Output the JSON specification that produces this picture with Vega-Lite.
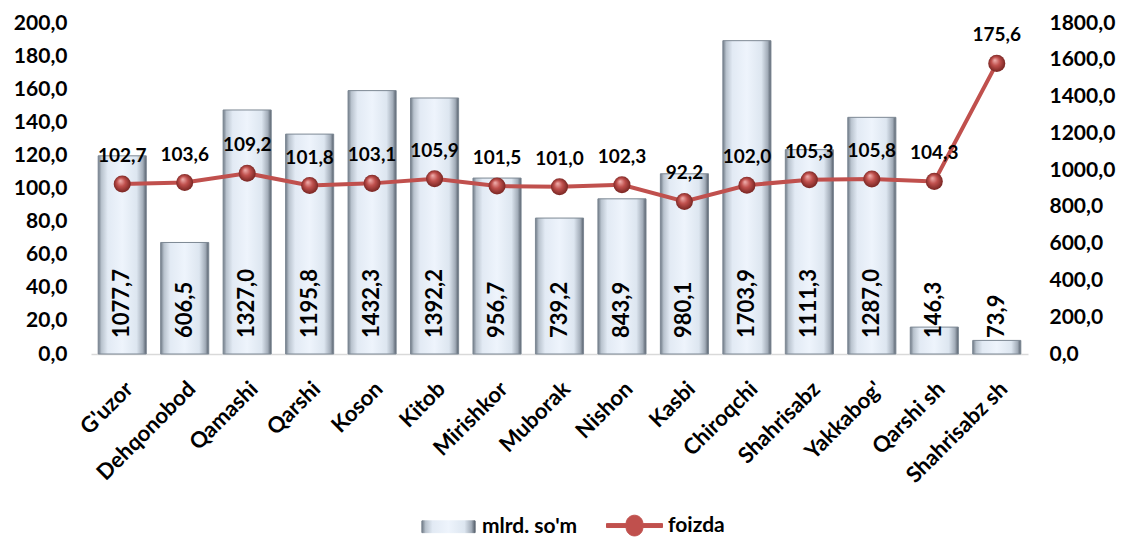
{
  "$schema": "https://vega.github.io/schema/vega-lite/v6.json",
  "width": 937,
  "height": 331,
  "autosize": {"type": "none"},
  "padding": {"left": 91, "top": 23, "right": 110, "bottom": 183},
  "background": "white",
  "config": {
    "locale": {"number": {"decimal": ",", "thousands": " ", "grouping": [3], "currency": ["", ""]}},
    "font": "Lato",
    "view": {"stroke": null},
    "axis": {"grid": false, "ticks": false, "labelFont": "Lato", "labelFontWeight": "bold", "labelColor": "black", "title": null, "labelOverlap": false},
    "legend": {
      "orient": "none",
      "legendX": 329,
      "legendY": 474,
      "direction": "horizontal",
      "title": null,
      "labelFont": "Lato",
      "labelFontSize": 21,
      "labelFontWeight": "bold",
      "labelColor": "black",
      "symbolSize": 3136,
      "symbolStrokeWidth": 1,
      "symbolStrokeColor": "#6d7885",
      "columnPadding": 26,
      "labelOffset": 5
    }
  },
  "data": {
    "values": [
      {"region": "G'uzor", "mlrd": 1077.7, "foizda": 102.7},
      {"region": "Dehqonobod", "mlrd": 606.5, "foizda": 103.6},
      {"region": "Qamashi", "mlrd": 1327.0, "foizda": 109.2},
      {"region": "Qarshi", "mlrd": 1195.8, "foizda": 101.8},
      {"region": "Koson", "mlrd": 1432.3, "foizda": 103.1},
      {"region": "Kitob", "mlrd": 1392.2, "foizda": 105.9},
      {"region": "Mirishkor", "mlrd": 956.7, "foizda": 101.5},
      {"region": "Muborak", "mlrd": 739.2, "foizda": 101.0},
      {"region": "Nishon", "mlrd": 843.9, "foizda": 102.3},
      {"region": "Kasbi", "mlrd": 980.1, "foizda": 92.2},
      {"region": "Chiroqchi", "mlrd": 1703.9, "foizda": 102.0},
      {"region": "Shahrisabz", "mlrd": 1111.3, "foizda": 105.3},
      {"region": "Yakkabog'", "mlrd": 1287.0, "foizda": 105.8},
      {"region": "Qarshi sh", "mlrd": 146.3, "foizda": 104.3},
      {"region": "Shahrisabz sh", "mlrd": 73.9, "foizda": 175.6}
    ]
  },
  "encoding": {
    "x": {
      "field": "region",
      "type": "nominal",
      "sort": null,
      "scale": {"paddingInner": 0.23, "paddingOuter": 0.115},
      "axis": {
        "labelAngle": -45,
        "labelAlign": "right",
        "labelBaseline": "top",
        "labelFontSize": 22,
        "labelPadding": 24,
        "labelOverlap": false,
        "domainColor": "#d9d9d9",
        "domainWidth": 1.5,
        "title": null
      }
    }
  },
  "layer": [
    {
      "layer": [
        {
          "mark": {"type": "bar", "stroke": "#7d8894", "strokeWidth": 1},
          "encoding": {
            "y": {
              "field": "mlrd",
              "type": "quantitative",
              "scale": {"domain": [0, 1800]},
              "axis": {
                "orient": "right",
                "values": [0, 200, 400, 600, 800, 1000, 1200, 1400, 1600, 1800],
                "tickCount": 20,
                "format": ".1f",
                "domain": false,
                "labelOverlap": false,
                "labelFontSize": 21,
                "labelPadding": 21,
                "title": null
              }
            },
            "color": {
              "datum": "mlrd. so'm",
              "type": "nominal",
              "scale": {
                "domain": ["mlrd. so'm", "foizda"],
                "range": [
                  {"expr": "{gradient: 'linear', x1: 0, y1: 0, x2: 1, y2: 0, stops: [{offset: 0, color: '#6f7a86'}, {offset: 0.07, color: '#b9c3ce'}, {offset: 0.2, color: '#e2eaf4'}, {offset: 0.5, color: '#eef4fc'}, {offset: 0.8, color: '#dde6f0'}, {offset: 0.93, color: '#a3adb9'}, {offset: 1, color: '#555f6b'}]}"},
                  "#C0504D"
                ]
              },
              "legend": {
                "encode": {
                  "symbols": {
                    "update": {
                      "shape": {"signal": "datum.value === 'foizda' ? 'M-1,-0.07H-0.3A0.3,0.3,0,0,1,0.3,-0.07H1V0.07H0.3A0.3,0.3,0,0,1,-0.3,0.07H-1Z' : 'M-0.95,-0.21H0.95V0.21H-0.95Z'"}
                    }
                  }
                }
              }
            }
          }
        },
        {
          "mark": {
            "type": "text",
            "angle": 270,
            "align": "left",
            "baseline": "middle",
            "dx": 16,
            "font": "Lato",
            "fontSize": 22,
            "fontWeight": "bold",
            "color": "black"
          },
          "encoding": {
            "y": {"datum": 0, "type": "quantitative"},
            "text": {"field": "mlrd", "type": "quantitative", "format": ".1f"}
          }
        }
      ]
    },
    {
      "layer": [
        {
          "mark": {"type": "line", "strokeWidth": 4},
          "encoding": {
            "y": {
              "field": "foizda",
              "type": "quantitative",
              "scale": {"domain": [0, 200]},
              "axis": {
                "orient": "left",
                "values": [0, 20, 40, 60, 80, 100, 120, 140, 160, 180, 200],
                "tickCount": 20,
                "format": ".1f",
                "domain": false,
                "labelOverlap": false,
                "labelFontSize": 21,
                "labelPadding": 24,
                "title": null
              }
            },
            "color": {"datum": "foizda", "type": "nominal"}
          }
        },
        {
          "mark": {
            "type": "point",
            "filled": true,
            "opacity": 1,
            "size": 290,
            "fill": {
              "gradient": "radial",
              "x1": 0.38, "y1": 0.3, "r1": 0,
              "x2": 0.5, "y2": 0.5, "r2": 0.55,
              "stops": [
                {"offset": 0, "color": "#f2b4b2"},
                {"offset": 0.45, "color": "#c0504d"},
                {"offset": 1, "color": "#6e1f1c"}
              ]
            }
          },
          "encoding": {
            "y": {"field": "foizda", "type": "quantitative"}
          }
        },
        {
          "mark": {
            "type": "text",
            "baseline": "alphabetic",
            "align": "center",
            "dy": -22,
            "font": "Lato",
            "fontSize": 19,
            "fontWeight": "bold",
            "color": "black"
          },
          "encoding": {
            "y": {"field": "foizda", "type": "quantitative"},
            "text": {"field": "foizda", "type": "quantitative", "format": ".1f"}
          }
        }
      ]
    }
  ],
  "resolve": {"scale": {"y": "independent"}}
}
